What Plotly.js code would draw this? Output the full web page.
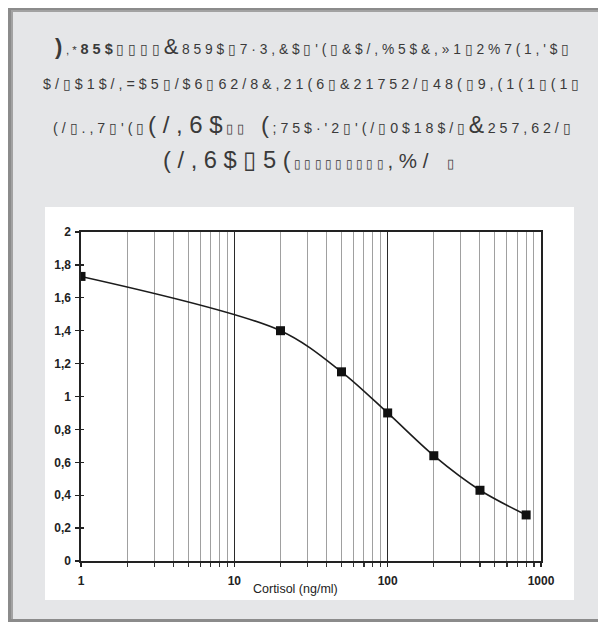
<!DOCTYPE html>
<html>
<head>
<meta charset="utf-8">
<script src="https://cdn.plot.ly/plotly-3.0.1.min.js"></script>
<style>html,body{margin:0;padding:0;background:#fff;}#chart{width:598px;height:623px;}</style>
</head>
<body>
<div id="chart"></div>
<script>
// ---- data ----
const cortisol = [1, 20, 50, 100, 200, 400, 800];
const absorbance = [1.73, 1.40, 1.15, 0.90, 0.64, 0.43, 0.28];
const xTickVals = [1, 10, 100, 1000];
const xTickText = ['1', '10', '100', '1000'];
const yTickVals = [0, 0.2, 0.4, 0.6, 0.8, 1, 1.2, 1.4, 1.6, 1.8, 2];
const xTitle = 'Cortisol (ng/ml)';

// header text (as printed, garbled encoding) : [text, size, bold]
const headerLine1 = [[')', 22, true], [',*', 11.5, false], ['85$', 14.5, true], ['\u25AF\u25AF\u25AF\u25AF', 14, false], ['&', 22, false], ['859$\u25AF7\u00B73,&$\u25AF\'(\u25AF&$/,%5$&,\u00BB1\u25AF2%7(1,\'$\u25AF', 13.8, false]];
const headerLine2 = [['$/\u25AF$1$/,=$5\u25AF/$6\u25AF62/8&,21(6\u25AF&21752/\u25AF48(\u25AF9,(1(1\u25AF(1\u25AF', 14.3, false]];
const headerLine3 = [['(/\u25AF.,7\u25AF\'(\u25AF', 14.2, false], ['(/,6$', 24, false], ['\u25AF\u25AF', 13, false], [' (', 24, false], [';75$\u00B7\'2\u25AF\'(/\u25AF0$18$/\u25AF', 14.2, false], ['&', 23, false], ['257,62/\u25AF', 14.2, false]];
const headerLine4 = [['(/,6$\u25AF5(', 23.7, false], ['\u25AF\u25AF\u25AF\u25AF\u25AF\u25AF\u25AF\u25AF\u25AF', 12, false], [',%/', 20.5, false], ['  \u25AF', 13, false]];

// minor tick positions for log axis
const minorVals = [];
[1, 10, 100].forEach(d => { for (let k = 2; k <= 9; k++) minorVals.push(k * d); });

// ---- geometry helpers (pixel -> paper) ----
const W = 598, H = 623, ML = 81, MR = 57, MT = 232, MB = 62;
const PW = W - ML - MR, PH = H - MT - MB;
const px = X => (X - ML) / PW;
const py = Y => (H - MB - Y) / PH;

function buildLine(segs) {
  return segs.map(([t, s, b]) => {
    const spaced = t.split('').join(' ');
    const inner = b ? '<b>' + spaced + '</b>' : spaced;
    return '<span style="font-size:' + s + 'px">' + inner + '</span>';
  }).join(' ');
}

const headerFont = {family: '"Liberation Sans", Arial, sans-serif', color: '#3a3a3a', size: 13};
const headerY = [46, 84, 124, 160];
const headerX = [312, 311, 312, 308];
const headerLines = [headerLine1, headerLine2, headerLine3, headerLine4];
const annotations = headerLines.map((segs, i) => ({
  xref: 'paper', yref: 'paper', x: px(headerX[i]), y: py(headerY[i]),
  xanchor: 'center', yanchor: 'middle', showarrow: false,
  text: buildLine(segs), font: headerFont
}));
annotations.push({
  xref: 'paper', yref: 'paper', x: px(295), y: py(589),
  xanchor: 'center', yanchor: 'middle', showarrow: false,
  text: xTitle, font: {family: '"Liberation Sans", Arial, sans-serif', size: 12.5, color: '#222'}
});

const shapes = [
  {type: 'rect', xref: 'paper', yref: 'paper', layer: 'below', x0: px(8), x1: px(600), y0: py(8), y1: py(622), fillcolor: '#8b8b8b', line: {width: 0}},
  {type: 'rect', xref: 'paper', yref: 'paper', layer: 'below', x0: px(11), x1: px(600), y0: py(10), y1: py(619), fillcolor: '#a2a2a2', line: {width: 0}},
  {type: 'rect', xref: 'paper', yref: 'paper', layer: 'below', x0: px(13), x1: px(600), y0: py(12), y1: py(619), fillcolor: '#e5e6e8', line: {width: 0}},
  {type: 'rect', xref: 'paper', yref: 'paper', layer: 'below', x0: px(45), x1: px(574), y0: py(207), y1: py(600), fillcolor: '#ffffff', line: {width: 0}}
];

const traces = [
  {
    x: cortisol, y: absorbance, type: 'scatter', mode: 'lines+markers',
    line: {shape: 'spline', smoothing: 0.9, color: '#1c1c1c', width: 1.6},
    marker: {symbol: 'square', size: 9, color: '#111'},
    hoverinfo: 'x+y'
  },
  {
    x: cortisol, y: absorbance, xaxis: 'x', yaxis: 'y2', type: 'scatter', mode: 'lines',
    line: {width: 0}, opacity: 0, hoverinfo: 'skip', showlegend: false
  }
];

const tickFont = {family: '"Liberation Sans", Arial, sans-serif', size: 12, color: '#222', weight: 'bold'};

const layout = {
  width: W, height: H,
  margin: {l: ML, r: MR, t: MT, b: MB, pad: 0},
  paper_bgcolor: '#ffffff', plot_bgcolor: 'rgba(0,0,0,0)',
  showlegend: false, separators: ',.',
  xaxis: {
    type: 'log', range: [0, 3], tickmode: 'array', tickvals: xTickVals, ticktext: xTickText,
    ticks: 'outside', ticklen: 4, tickwidth: 1.3, tickcolor: '#222',
    showline: true, linecolor: '#222', linewidth: 1.6, mirror: true,
    showgrid: true, gridcolor: '#2a2a2a', gridwidth: 1.6, zeroline: false,
    tickfont: tickFont, ticklabelstandoff: 4,
    minor: {tickmode: 'array', tickvals: minorVals, ticks: 'outside', ticklen: 4, tickwidth: 1.2, tickcolor: '#333',
            showgrid: true, gridcolor: '#a0a0a0', gridwidth: 1}
  },
  yaxis: {
    range: [0, 2], tickmode: 'array', tickvals: yTickVals,
    ticks: 'outside', ticklen: 4, tickwidth: 1.3, tickcolor: '#222',
    showline: true, linecolor: '#222', linewidth: 1.6, mirror: true,
    showgrid: false, zeroline: false, tickfont: tickFont, ticklabelstandoff: 2
  },
  yaxis2: {
    overlaying: 'y', side: 'left', range: [0, 2], tickmode: 'array', tickvals: yTickVals,
    ticks: 'inside', ticklen: 3, tickwidth: 1.3, tickcolor: '#222',
    showticklabels: false, showgrid: false, showline: false, zeroline: false
  },
  shapes: shapes,
  annotations: annotations
};

Plotly.newPlot('chart', traces, layout, {displayModeBar: false, staticPlot: true});
</script>
</body>
</html>
